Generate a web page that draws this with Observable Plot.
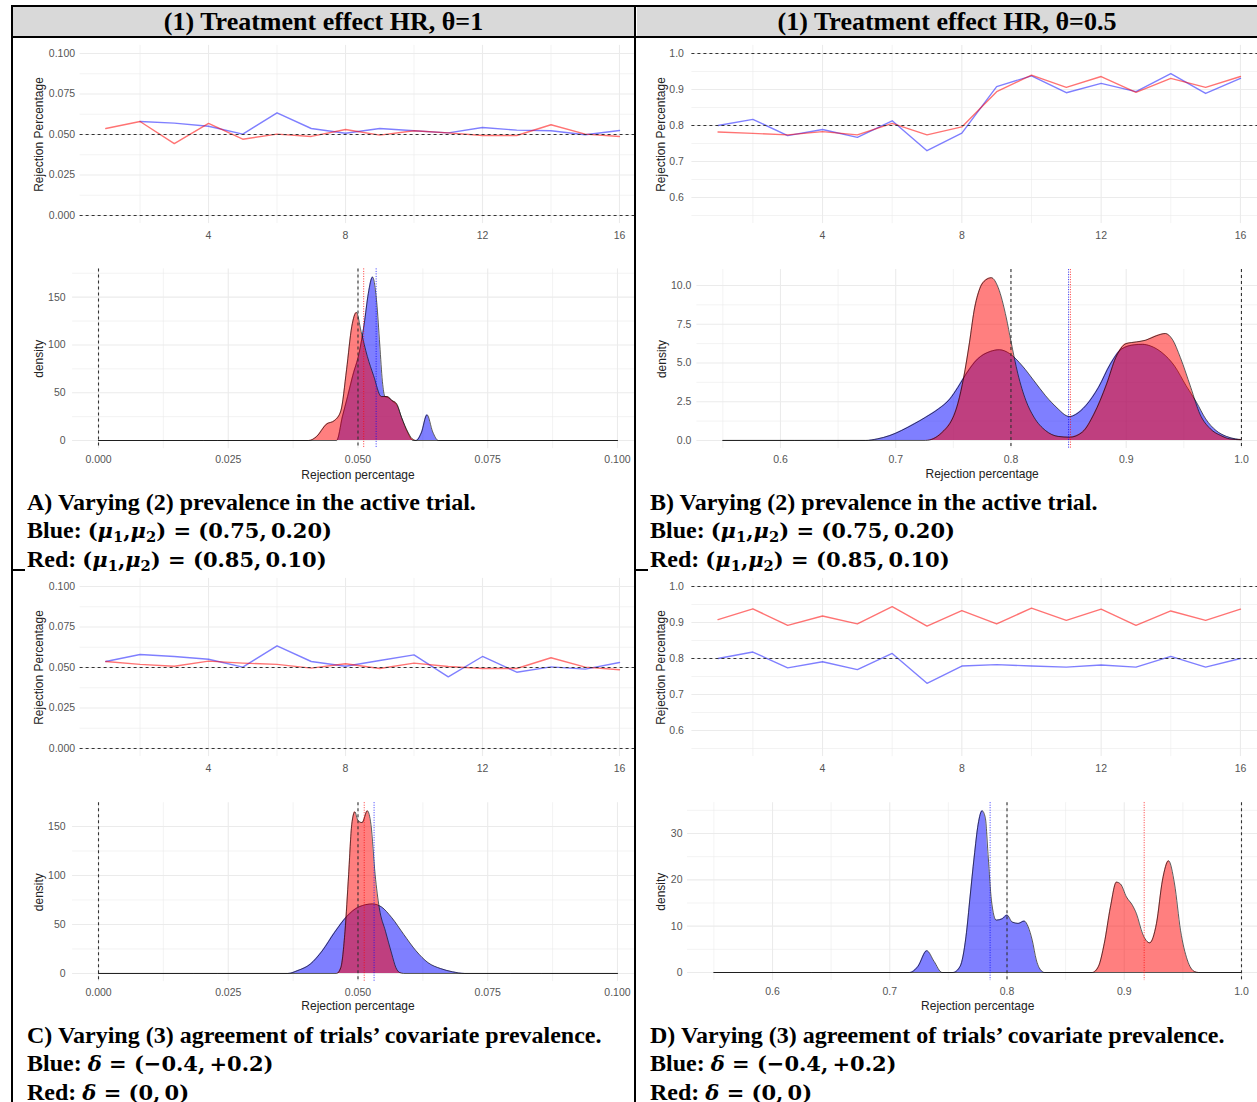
<!DOCTYPE html>
<html><head><meta charset="utf-8">
<script src="https://cdn.jsdelivr.net/npm/d3@7"></script>
<script src="https://cdn.jsdelivr.net/npm/@observablehq/plot@0.6"></script>
<style>
body{margin:0;background:#fff;}
#root{position:relative;width:1257px;height:1102px;overflow:hidden;background:#fff;}
.ln{position:absolute;background:#000;}
.hdr{position:absolute;background:#d9d9d9;font-family:"Liberation Serif","Times New Roman",serif;font-weight:bold;font-size:26px;display:flex;align-items:center;justify-content:center;color:#000;}
.img{position:absolute;overflow:hidden;background:#fff;}
.img svg{position:absolute;left:0;overflow:visible;max-width:none !important;}
.cap{position:absolute;font-family:"Liberation Serif","Times New Roman",serif;font-weight:bold;font-size:24px;line-height:28px;white-space:nowrap;color:#000;}
.m{font-family:"DejaVu Serif",serif;font-size:21px;}
.m sub{font-size:0.7em;vertical-align:-0.25em;line-height:0;}
</style></head>
<body>
<div id="root">
  <div class="hdr" style="left:13px;top:7px;width:621px;height:30px;">(1) Treatment effect HR, θ=1</div>
  <div class="hdr" style="left:637px;top:7px;width:620px;height:30px;">(1) Treatment effect HR, θ=0.5</div>
  <div class="ln" style="left:12px;top:5px;width:1245px;height:2px;"></div>
  <div class="ln" style="left:12px;top:36px;width:1245px;height:2px;"></div>
  <div class="ln" style="left:12px;top:569px;width:13px;height:2px;"></div>
  <div class="ln" style="left:635px;top:569px;width:13px;height:2px;"></div>
  <div class="ln" style="left:11px;top:5px;width:2px;height:1097px;"></div>
  <div class="ln" style="left:634px;top:5px;width:2px;height:1097px;"></div>
  <div class="cap" style="left:27px;top:488px;">A) Varying (2) prevalence in the active trial.<br>Blue: <span class="m">(<i>μ</i><sub>1</sub>,<i>μ</i><sub>2</sub>) = (0.75,&thinsp;0.20)</span><br>Red: <span class="m">(<i>μ</i><sub>1</sub>,<i>μ</i><sub>2</sub>) = (0.85,&thinsp;0.10)</span></div>
  <div class="cap" style="left:650px;top:488px;">B) Varying (2) prevalence in the active trial.<br>Blue: <span class="m">(<i>μ</i><sub>1</sub>,<i>μ</i><sub>2</sub>) = (0.75,&thinsp;0.20)</span><br>Red: <span class="m">(<i>μ</i><sub>1</sub>,<i>μ</i><sub>2</sub>) = (0.85,&thinsp;0.10)</span></div>
  <div class="cap" style="left:27px;top:1021px;">C) Varying (3) agreement of trials’ covariate prevalence.<br>Blue: <span class="m"><i>δ</i> = (−0.4,&thinsp;+0.2)</span><br>Red: <span class="m"><i>δ</i> = (0,&thinsp;0)</span></div>
  <div class="cap" style="left:650px;top:1021px;">D) Varying (3) agreement of trials’ covariate prevalence.<br>Blue: <span class="m"><i>δ</i> = (−0.4,&thinsp;+0.2)</span><br>Red: <span class="m"><i>δ</i> = (0,&thinsp;0)</span></div>
</div>
<script>
// ---------------- DATA ----------------
const scenario = [1,2,3,4,5,6,7,8,9,10,11,12,13,14,15,16];

const rejA_blue = [null,0.0580,0.0570,0.0551,0.0502,0.0634,0.0537,0.0508,0.0537,0.0523,0.0510,0.0543,0.0527,0.0523,0.0498,0.0525];
const rejA_red  = [0.0537,0.0580,0.0444,0.0568,0.0471,0.0502,0.0488,0.0531,0.0496,0.0523,0.0510,0.0494,0.0494,0.0560,0.0502,0.0488];
const rejB_blue = [0.800,0.817,0.772,0.789,0.767,0.813,0.730,0.779,0.908,0.938,0.891,0.917,0.894,0.944,0.889,0.931];
const rejB_red  = [0.782,0.778,0.774,0.783,0.774,0.806,0.774,0.796,0.894,0.940,0.906,0.936,0.892,0.931,0.906,0.936];
const rejC_blue = [0.0537,0.0580,0.0568,0.0551,0.0502,0.0634,0.0537,0.0508,0.0543,0.0578,0.0442,0.0568,0.0471,0.0504,0.0490,0.0531];
const rejC_red  = [0.0537,0.0519,0.0508,0.0539,0.0527,0.0519,0.0496,0.0523,0.0494,0.0527,0.0506,0.0494,0.0494,0.0560,0.0502,0.0486];
const rejD_blue = [0.800,0.818,0.774,0.791,0.769,0.814,0.731,0.779,0.783,0.779,0.776,0.782,0.776,0.806,0.776,0.800];
const rejD_red  = [0.908,0.938,0.892,0.918,0.896,0.944,0.890,0.933,0.896,0.940,0.906,0.937,0.892,0.932,0.906,0.937];

// density curves: [rejection percentage, density]
const densA_blue = [[0,0],[0.0459,0],[0.047,25],[0.048,46],[0.049,68],[0.0502,91],[0.0512,122],[0.052,154],[0.0528,171],[0.0536,145],[0.0542,100],[0.0547,62],[0.0552,46],[0.0558,45],[0.0567,41],[0.0576,36],[0.0584,24],[0.0596,8],[0.0606,0],[0.0612,0],[0.0622,8],[0.0633,27],[0.0644,9],[0.0655,0],[0.1,0]];
const densA_red  = [[0,0],[0.0405,0],[0.042,4],[0.0439,17],[0.0455,21],[0.0467,31],[0.0478,74],[0.0488,119],[0.0497,134],[0.0506,114],[0.0518,88],[0.053,68],[0.0545,46],[0.0557,46],[0.0565,42],[0.0574,39],[0.0584,24],[0.0596,9],[0.0604,2],[0.0612,0],[0.1,0]];
const densB_blue = [[0.55,0],[0.674,0],[0.684,0.1],[0.695,0.32],[0.705,0.64],[0.716,1.07],[0.726,1.5],[0.737,2.03],[0.747,2.68],[0.754,3.43],[0.761,4.28],[0.771,5.25],[0.782,5.74],[0.79,5.85],[0.799,5.6],[0.81,4.8],[0.82,3.85],[0.83,2.89],[0.841,2.03],[0.848,1.6],[0.851,1.54],[0.856,1.67],[0.865,2.25],[0.876,3.43],[0.886,4.9],[0.896,5.9],[0.907,6.17],[0.914,6.2],[0.921,6.1],[0.931,5.67],[0.942,4.8],[0.952,3.53],[0.961,2.46],[0.969,1.39],[0.978,0.64],[0.987,0.26],[0.995,0.1],[1.0,0.06]];
const densB_red  = [[0.55,0],[0.726,0],[0.74,0.5],[0.754,2.4],[0.759,4.07],[0.764,6.3],[0.768,8.35],[0.773,9.8],[0.778,10.35],[0.783,10.5],[0.789,9.85],[0.796,7.9],[0.80,6.4],[0.806,4.3],[0.813,2.57],[0.82,1.5],[0.83,0.64],[0.841,0.26],[0.851,0.21],[0.862,0.54],[0.872,1.7],[0.883,3.64],[0.891,5.35],[0.90,6.25],[0.909,6.36],[0.917,6.47],[0.926,6.75],[0.934,6.9],[0.94,6.53],[0.947,5.35],[0.956,3.43],[0.964,1.7],[0.973,0.75],[0.982,0.32],[0.99,0.1],[1.0,0.04]];
const densC_blue = [[0,0],[0.0365,0],[0.0384,3],[0.0408,9.5],[0.0431,23],[0.0455,42],[0.0478,58],[0.0502,68],[0.0528,71],[0.0545,68],[0.0565,57],[0.0588,40],[0.0612,23],[0.0635,11],[0.0659,5],[0.0682,1.7],[0.0706,0],[0.1,0]];
const densC_red  = [[0,0],[0.0459,0],[0.0467,6],[0.0475,43],[0.0482,101],[0.0488,152],[0.0494,165],[0.050,156],[0.0508,154],[0.0518,166],[0.0525,152],[0.0533,101],[0.0541,67],[0.0553,43],[0.0565,20],[0.0573,6],[0.058,1],[0.0588,0],[0.1,0]];
const densD_blue = [[0.55,0],[0.717,0],[0.724,1.3],[0.7316,4.7],[0.7378,2.4],[0.7446,0],[0.754,0],[0.760,1.3],[0.765,7.7],[0.7685,16.3],[0.772,24.9],[0.7754,32],[0.7788,34.9],[0.7815,33.4],[0.784,24.9],[0.7867,15.6],[0.7908,11.3],[0.796,11.6],[0.800,12.4],[0.8044,10.9],[0.8096,10.6],[0.8147,11.1],[0.818,9.9],[0.8215,7],[0.825,2.7],[0.830,0.2],[0.8318,0],[1.0,0]];
const densD_red  = [[0.55,0],[0.8728,0],[0.878,1.3],[0.883,6.3],[0.8882,14.1],[0.8933,19.5],[0.8968,19.1],[0.9019,16.3],[0.907,14.5],[0.9104,12.7],[0.9156,8.4],[0.9217,6.4],[0.9275,10.6],[0.9326,19.9],[0.9378,24.1],[0.9429,19.1],[0.948,9.1],[0.9538,2.7],[0.96,0.2],[0.9634,0],[1.0,0]];

// mean lines (dotted) and reference lines (dashed)
const meanA = {blue: 0.0535, red: 0.0511};
const meanB = {blue: 0.850, red: 0.8516};
const meanC = {blue: 0.0531, red: 0.0512};
const meanD = {blue: 0.7856, red: 0.917};
const refSmall = [0, 0.05];
const refLarge = [0.8, 1.0];

// ticks
const xTicksScenario = [4,8,12,16];
const xMinorScenario = [2,6,10,14];
const yTicksRejSmall = [0,0.025,0.05,0.075,0.1];
const yMinorRejSmall = [0.0125,0.0375,0.0625,0.0875];
const yTicksRejLarge = [0.6,0.7,0.8,0.9,1.0];
const yMinorRejLarge = [0.55,0.65,0.75,0.85,0.95];
const xTicksDensSmall = [0,0.025,0.05,0.075,0.1];
const xMinorDensSmall = [0.0125,0.0375,0.0625,0.0875];
const xTicksDensLarge = [0.6,0.7,0.8,0.9,1.0];
const xMinorDensLarge = [0.55,0.65,0.75,0.85,0.95];
const yTicksDensA = [0,50,100,150], yMinorDensA = [25,75,125,175];
const yTicksDensB = [0,2.5,5,7.5,10], yMinorDensB = [1.25,3.75,6.25,8.75];
const yTicksDensC = [0,50,100,150], yMinorDensC = [25,75,125];
const yTicksDensD = [0,10,20,30], yMinorDensD = [5,15,25,35];

// ---------------- LAYOUT ----------------
const root = document.getElementById("root");
function wrap(left, top, width, height) {
  const d = document.createElement("div");
  d.className = "img";
  Object.assign(d.style, {left: left+"px", top: top+"px", width: width+"px", height: height+"px"});
  root.appendChild(d);
  return {el: d, left, top};
}
const GRID = "#ebebeb";
const STYLE = {fontFamily: "'Liberation Sans', Arial, sans-serif", fontSize: "10.5px", color: "#555", background: "transparent", overflow: "visible", maxWidth: "none"};

function frameOpts(w, s) {
  return {
    width: s.fx[1] - w.left,
    height: s.bottom - s.top,
    marginLeft: s.fx[0] - w.left,
    marginRight: 0,
    marginTop: s.fy[0] - s.top,
    marginBottom: s.bottom - s.fy[1],
    style: STYLE
  };
}
function mount(w, svg, top) {
  svg.style.top = (top - w.top) + "px";
  w.el.appendChild(svg);
}

function linePlot(w, s) {
  const blue = scenario.map((x, i) => ({x, y: s.blue[i]}));
  const red = scenario.map((x, i) => ({x, y: s.red[i]}));
  const svg = Plot.plot({
    ...frameOpts(w, s),
    x: {domain: [0.25, 16.75]},
    y: {domain: s.yDomain},
    marks: [
      Plot.gridX(xMinorScenario, {stroke: GRID, strokeOpacity: 1, strokeWidth: 0.6}),
      Plot.gridX(xTicksScenario, {stroke: GRID, strokeOpacity: 1, strokeWidth: 1.1}),
      Plot.gridY(s.yMinor, {stroke: GRID, strokeOpacity: 1, strokeWidth: 0.6}),
      Plot.gridY(s.yTicks, {stroke: GRID, strokeOpacity: 1, strokeWidth: 1.1}),
      Plot.axisX(xTicksScenario, {tickSize: 0, tickPadding: 8, label: null}),
      Plot.axisY(s.yTicks, {tickSize: 0, tickPadding: s.yPad, tickFormat: d3.format(s.fmt), label: null}),
      Plot.line(blue, {x: "x", y: "y", stroke: "blue", strokeOpacity: 0.5, strokeWidth: 1.4}),
      Plot.line(red, {x: "x", y: "y", stroke: "red", strokeOpacity: 0.55, strokeWidth: 1.4}),
      Plot.ruleY(s.refs, {stroke: "#333", strokeDasharray: "3,3", strokeWidth: 1.2}),
      Plot.text(["Rejection Percentage"], {text: d => d, frameAnchor: "left", textAnchor: "middle", lineAnchor: "middle", rotate: -90, dx: s.titleDx, fontSize: 12, fill: "#222"})
    ]
  });
  mount(w, svg, s.top);
}

function densPlot(w, s) {
  const X = d => d[0], Y = d => d[1];
  const svg = Plot.plot({
    ...frameOpts(w, s),
    x: {domain: s.xDomain},
    y: {domain: s.yDomain},
    marks: [
      Plot.gridX(s.xMinor, {stroke: GRID, strokeOpacity: 1, strokeWidth: 0.6}),
      Plot.gridX(s.xTicks, {stroke: GRID, strokeOpacity: 1, strokeWidth: 1.1}),
      Plot.gridY(s.yMinor, {stroke: GRID, strokeOpacity: 1, strokeWidth: 0.6}),
      Plot.gridY(s.yTicks, {stroke: GRID, strokeOpacity: 1, strokeWidth: 1.1}),
      Plot.axisX(s.xTicks, {tickSize: 0, tickPadding: 7, tickFormat: d3.format(s.xFmt), label: null}),
      Plot.axisY(s.yTicks, {tickSize: 0, tickPadding: s.yPad, tickFormat: d3.format(s.yFmt), label: null}),
      Plot.areaY(s.blue, {x: X, y: Y, fill: "blue", fillOpacity: 0.5, curve: "monotone-x"}),
      Plot.lineY(s.blue, {x: X, y: Y, stroke: "#000", strokeOpacity: 0.8, strokeWidth: 0.8, curve: "monotone-x"}),
      Plot.areaY(s.red, {x: X, y: Y, fill: "red", fillOpacity: 0.5, curve: "monotone-x"}),
      Plot.lineY(s.red, {x: X, y: Y, stroke: "#000", strokeOpacity: 0.8, strokeWidth: 0.8, curve: "monotone-x"}),
      Plot.ruleX(s.refs, {stroke: "#333", strokeDasharray: "3,3", strokeWidth: 1.1}),
      Plot.ruleX([s.mean.red], {stroke: "red", strokeOpacity: 0.8, strokeDasharray: "1,1.5", strokeWidth: 1}),
      Plot.ruleX([s.mean.blue], {stroke: "blue", strokeOpacity: 0.8, strokeDasharray: "1,1.5", strokeWidth: 1}),
      Plot.text(["density"], {text: d => d, frameAnchor: "left", textAnchor: "middle", lineAnchor: "middle", rotate: -90, dx: s.titleDx, fontSize: 12, fill: "#222"}),
      Plot.text(["Rejection percentage"], {text: d => d, frameAnchor: "bottom", textAnchor: "middle", lineAnchor: "middle", dy: s.xTitleDy, fontSize: 12, fill: "#222"})
    ]
  });
  mount(w, svg, s.top);
}

const wA = wrap(25, 39, 609, 447);
const wB = wrap(648, 39, 609, 447);
const wC = wrap(25, 571, 609, 447);
const wD = wrap(648, 571, 609, 447);

// Panel A
linePlot(wA, {top: 39, bottom: 250, fx: [79.6, 644.7], fy: [44.9, 223.1], yDomain: [-0.005, 0.105],
  yTicks: yTicksRejSmall, yMinor: yMinorRejSmall, fmt: ".3f", yPad: 5, blue: rejA_blue, red: rejA_red, refs: refSmall, titleDx: -41});
densPlot(wA, {top: 250, bottom: 486, fx: [72.05, 642.95], fy: [268.4, 448.2], xDomain: [-0.005, 0.105], yDomain: [-8.55, 179.55],
  xTicks: xTicksDensSmall, xMinor: xMinorDensSmall, xFmt: ".3f", yTicks: yTicksDensA, yMinor: yMinorDensA, yFmt: "d", yPad: 7,
  blue: densA_blue, red: densA_red, refs: refSmall, mean: meanA, titleDx: -33, xTitleDy: 26});
// Panel B
linePlot(wB, {top: 39, bottom: 250, fx: [691.4, 1266.1], fy: [44.9, 223.1], yDomain: [0.5275, 1.0225],
  yTicks: yTicksRejLarge, yMinor: yMinorRejLarge, fmt: ".1f", yPad: 8, blue: rejB_blue, red: rejB_red, refs: refLarge, titleDx: -31});
densPlot(wB, {top: 250, bottom: 486, fx: [696.4, 1266.9], fy: [269.1, 448.1], xDomain: [0.5275, 1.0225], yDomain: [-0.525, 11.025],
  xTicks: xTicksDensLarge, xMinor: xMinorDensLarge, xFmt: ".1f", yTicks: yTicksDensB, yMinor: yMinorDensB, yFmt: ".1f", yPad: 5.5,
  blue: densB_blue, red: densB_red, refs: refLarge, mean: meanB, titleDx: -35, xTitleDy: 26});
// Panel C
linePlot(wC, {top: 571, bottom: 782, fx: [79.6, 644.7], fy: [577.9, 756.1], yDomain: [-0.005, 0.105],
  yTicks: yTicksRejSmall, yMinor: yMinorRejSmall, fmt: ".3f", yPad: 5, blue: rejC_blue, red: rejC_red, refs: refSmall, titleDx: -41});
densPlot(wC, {top: 782, bottom: 1018, fx: [72.05, 642.95], fy: [802.2, 981.1], xDomain: [-0.005, 0.105], yDomain: [-8.3, 174.3],
  xTicks: xTicksDensSmall, xMinor: xMinorDensSmall, xFmt: ".3f", yTicks: yTicksDensC, yMinor: yMinorDensC, yFmt: "d", yPad: 7,
  blue: densC_blue, red: densC_red, refs: refSmall, mean: meanC, titleDx: -33, xTitleDy: 25});
// Panel D
linePlot(wD, {top: 571, bottom: 782, fx: [691.4, 1266.1], fy: [577.9, 756.1], yDomain: [0.5275, 1.0225],
  yTicks: yTicksRejLarge, yMinor: yMinorRejLarge, fmt: ".1f", yPad: 8, blue: rejD_blue, red: rejD_red, refs: refLarge, titleDx: -31});
densPlot(wD, {top: 782, bottom: 1018, fx: [687, 1267.4], fy: [802.2, 980.1], xDomain: [0.5275, 1.0225], yDomain: [-1.745, 36.645],
  xTicks: xTicksDensLarge, xMinor: xMinorDensLarge, xFmt: ".1f", yTicks: yTicksDensD, yMinor: yMinorDensD, yFmt: "d", yPad: 5,
  blue: densD_blue, red: densD_red, refs: refLarge, mean: meanD, titleDx: -26, xTitleDy: 26});
</script>
</body></html>
